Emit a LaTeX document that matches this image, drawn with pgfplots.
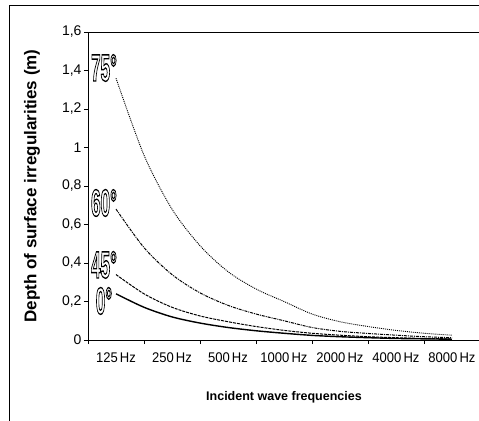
\documentclass[border=0pt]{standalone}
\usepackage{pgfplots}
\pgfplotsset{compat=1.18}
\usepackage{fontspec}
\setmainfont{Liberation Sans}
\newcommand{\anglabel}[1]{\scalebox{0.45}[1]{\fontsize{38bp}{40bp}\selectfont\bfseries\special{pdf:literal direct 1 Tr 1.4 w}#1\special{pdf:literal direct 0 Tr}}}
\newcommand{\hz}[1]{\scalebox{0.93}[1]{#1\,Hz}}
\begin{document}
\begin{tikzpicture}
\useasboundingbox (0,0) rectangle (479bp,421bp);
\draw[line width=0.9bp] (9bp,-10bp) rectangle (495bp,416bp);
\begin{axis}[
  at={(88bp,81bp)}, anchor=south west,
  scale only axis, width=392bp, height=308bp,
  xmin=-0.5, xmax=6.5, ymin=0, ymax=1.6,
  xtick={-0.5,0.5,1.5,2.5,3.5,4.5,5.5,6.5},
  x tick label as interval,
  xticklabels={\hz{125},\hz{250},\hz{500},\hz{1000},\hz{2000},\hz{4000},\hz{8000},},
  ytick={0,0.2,0.4,0.6,0.8,1,1.2,1.4,1.6},
  yticklabel style={xshift=1bp, /pgf/number format/.cd, use comma, fixed, precision=1},
  /pgf/number format/assume math mode=true,
  tick pos=left, tick align=outside, major tick length=4bp,
  axis line style={line width=0.8bp},
  every tick/.style={black, line width=0.8bp},
  tick label style={font=\fontsize{14bp}{16bp}\selectfont},
  xticklabel style={yshift=-5bp},
  xlabel={\textbf{Incident wave frequencies}},
  ylabel={\textbf{Depth of surface irregularities (m)}},
  every axis x label/.style={at={(axis description cs:0.5,-0.185)}, anchor=center, font=\fontsize{12.5bp}{14bp}\selectfont},
  every axis y label/.style={at={(axis description cs:-0.143,0.5)}, anchor=center, rotate=90, font=\fontsize{17bp}{19bp}\selectfont},
  clip=false,
]
% 0 deg
\addplot[black, line width=1.4bp, smooth] coordinates {(0,0.24) (0.5,0.17) (1,0.12) (1.5,0.088) (2,0.065) (2.5,0.048) (3,0.035) (3.5,0.024) (4,0.017) (4.5,0.012) (5,0.008) (5.5,0.006) (6,0.004)};
% 45 deg
\addplot[black, line width=1bp, smooth, dash pattern=on 3bp off 1bp] coordinates {(0,0.34) (0.5,0.24) (1,0.17) (1.5,0.125) (2,0.095) (2.5,0.07) (3,0.05) (3.5,0.035) (4,0.025) (4.5,0.017) (5,0.012) (5.5,0.008) (6,0.006)};
% 60 deg
\addplot[black, line width=1bp, smooth, dash pattern=on 3bp off 1bp on 1bp off 1bp] coordinates {(0,0.68) (0.5,0.48) (1,0.34) (1.5,0.245) (2,0.18) (2.5,0.135) (3,0.1) (3.5,0.065) (4,0.045) (4.5,0.034) (5,0.025) (5.5,0.017) (6,0.012)};
% 75 deg
\addplot[black, line width=0.9bp, smooth, dash pattern=on 1bp off 1bp] coordinates {(0,1.36) (0.5,0.96) (1,0.68) (1.5,0.49) (2,0.355) (2.5,0.265) (3,0.2) (3.5,0.135) (4,0.095) (4.5,0.07) (5,0.05) (5.5,0.035) (6,0.025)};
\node at (axis cs:-0.214,1.413) {\anglabel{75°}};
\node at (axis cs:-0.214,0.712) {\anglabel{60°}};
\node at (axis cs:-0.214,0.39) {\anglabel{45°}};
\node at (axis cs:-0.214,0.203) {\anglabel{0°}};
\end{axis}
\end{tikzpicture}
\end{document}
